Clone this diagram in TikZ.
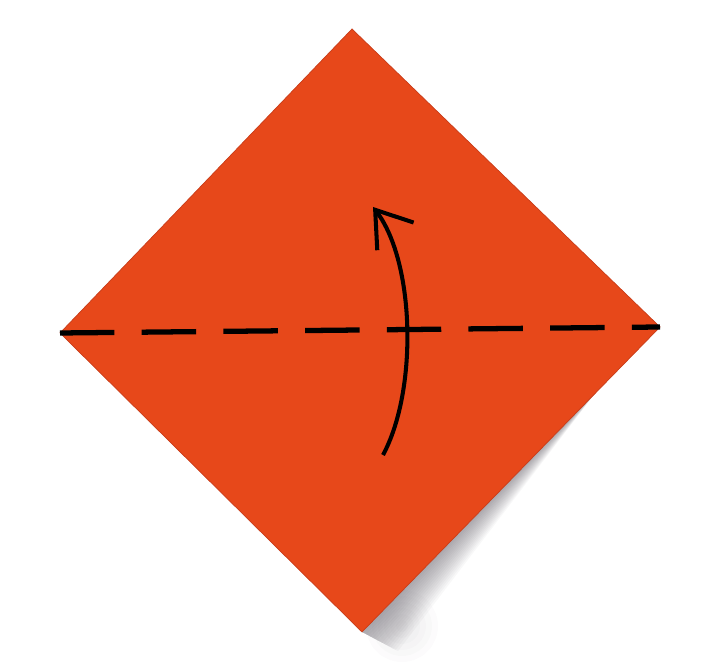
\documentclass[tikz,border=0pt]{standalone}
\usetikzlibrary{positioning,calc,arrows.meta}
\definecolor{paper}{RGB}{231,72,26}
\definecolor{paperedge}{RGB}{200,60,25}
\definecolor{shadowgray}{RGB}{80,75,85}
\tikzset{sheet/.style={fill=paper,draw=paperedge,line width=0.4pt,line join=miter}}
\tikzset{valley/.style={line width=3pt,dash pattern=on 31pt off 15.5pt}}
\tikzset{foldarrow/.style={line width=2.3pt,-{Straight Barb[length=19pt,width=26pt,line width=2.3pt]}}}
\tikzset{>={Latex}}

\begin{document}
\begin{tikzpicture}[x=0.02cm,y=-0.02cm]
    \useasboundingbox (0,0) rectangle (707,671);

    \coordinate (top) at (352,29);
    \coordinate (left) at (60,333);
    \coordinate (right) at (660,327);
    \coordinate (bottom) at (362,632);

    % soft shadow under the lifted bottom corner
    \coordinate (sh) at ($(right)!0.22!(bottom)$);
    \foreach \d in {3,6,...,48}
      \fill[shadowgray,opacity=0.04] (sh) -- (bottom) -- ($(bottom)+(0.75*\d,0.4*\d)$) -- cycle;
    \foreach \r in {6,12,...,36}
      \fill[shadowgray,opacity=0.02] ($(bottom)+(40,-6)$) circle (\r);

    \filldraw[sheet] (top) -- (right) -- (bottom) -- (left) -- cycle;

    \draw[valley] (left) -- (right);

    \coordinate (astart) at (383,455);
    \coordinate (atip) at (373,207);
    \draw[foldarrow] (astart) .. controls (418,390) and (415,262) .. (atip);
\end{tikzpicture}
\end{document}
